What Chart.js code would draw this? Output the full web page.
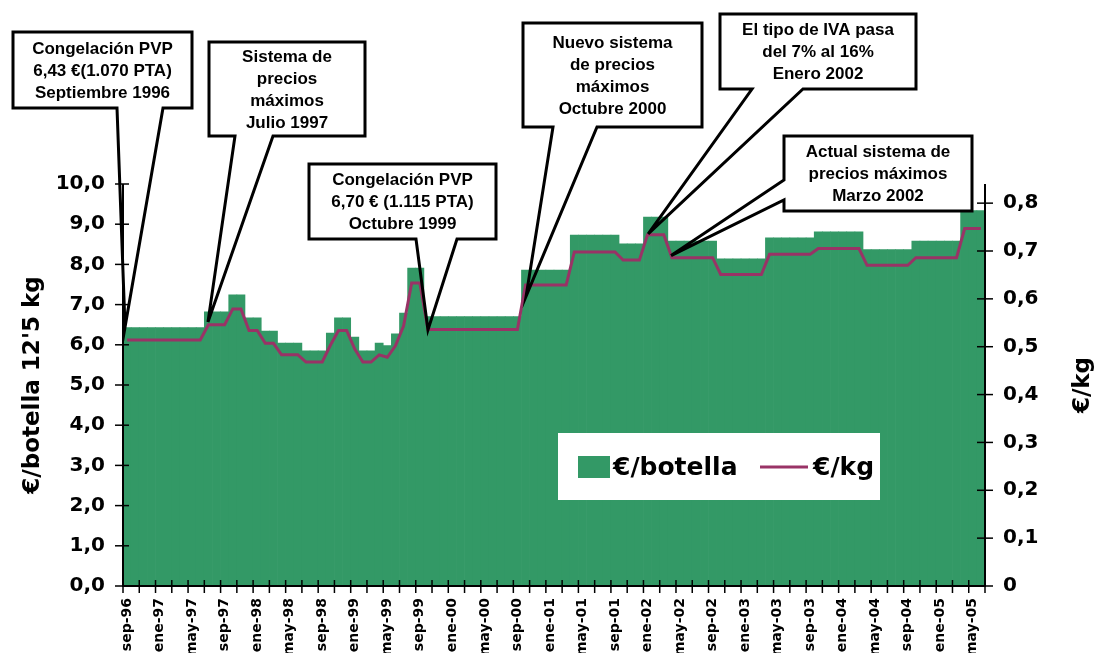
<!DOCTYPE html>
<html>
<head>
<meta charset="utf-8">
<script src="https://cdn.jsdelivr.net/npm/chart.js@4.4.1/dist/chart.umd.min.js"></script>
<style>
  body { margin: 0; background: #fff; }
  canvas { display: block; }
</style>
</head>
<body>
<canvas id="precioChart" width="1099" height="653"></canvas>
<script>
// 1. Data (monthly, sep-96 .. jun-05)
const months = [
    'sep-96', 'oct-96', 'nov-96', 'dic-96',
    'ene-97', 'feb-97', 'mar-97', 'abr-97', 'may-97', 'jun-97', 'jul-97', 'ago-97', 'sep-97', 'oct-97', 'nov-97', 'dic-97',
    'ene-98', 'feb-98', 'mar-98', 'abr-98', 'may-98', 'jun-98', 'jul-98', 'ago-98', 'sep-98', 'oct-98', 'nov-98', 'dic-98',
    'ene-99', 'feb-99', 'mar-99', 'abr-99', 'may-99', 'jun-99', 'jul-99', 'ago-99', 'sep-99', 'oct-99', 'nov-99', 'dic-99',
    'ene-00', 'feb-00', 'mar-00', 'abr-00', 'may-00', 'jun-00', 'jul-00', 'ago-00', 'sep-00', 'oct-00', 'nov-00', 'dic-00',
    'ene-01', 'feb-01', 'mar-01', 'abr-01', 'may-01', 'jun-01', 'jul-01', 'ago-01', 'sep-01', 'oct-01', 'nov-01', 'dic-01',
    'ene-02', 'feb-02', 'mar-02', 'abr-02', 'may-02', 'jun-02', 'jul-02', 'ago-02', 'sep-02', 'oct-02', 'nov-02', 'dic-02',
    'ene-03', 'feb-03', 'mar-03', 'abr-03', 'may-03', 'jun-03', 'jul-03', 'ago-03', 'sep-03', 'oct-03', 'nov-03', 'dic-03',
    'ene-04', 'feb-04', 'mar-04', 'abr-04', 'may-04', 'jun-04', 'jul-04', 'ago-04', 'sep-04', 'oct-04', 'nov-04', 'dic-04',
    'ene-05', 'feb-05', 'mar-05', 'abr-05', 'may-05', 'jun-05'
];

// €/botella (12,5 kg)
const euroBotella = [
    6.43, 6.43, 6.43, 6.43,
    6.43, 6.43, 6.43, 6.43, 6.43, 6.43, 6.82, 6.82, 6.82, 7.24, 7.24, 6.67,
    6.67, 6.34, 6.34, 6.04, 6.04, 6.04, 5.85, 5.85, 5.85, 6.29, 6.67, 6.67,
    6.19, 5.85, 5.85, 6.04, 5.98, 6.27, 6.79, 7.91, 7.91, 6.70, 6.70, 6.70,
    6.70, 6.70, 6.70, 6.70, 6.70, 6.70, 6.70, 6.70, 6.70, 7.86, 7.86, 7.86,
    7.86, 7.86, 7.86, 8.73, 8.73, 8.73, 8.73, 8.73, 8.73, 8.51, 8.51, 8.51,
    9.18, 9.18, 9.18, 8.58, 8.58, 8.58, 8.58, 8.58, 8.58, 8.14, 8.14, 8.14,
    8.14, 8.14, 8.14, 8.66, 8.66, 8.66, 8.66, 8.66, 8.66, 8.81, 8.81, 8.81,
    8.81, 8.81, 8.81, 8.37, 8.37, 8.37, 8.37, 8.37, 8.37, 8.58, 8.58, 8.58,
    8.58, 8.58, 8.58, 9.34, 9.34, 9.34
];

// €/kg
const euroKg = [
    0.514, 0.514, 0.514, 0.514,
    0.514, 0.514, 0.514, 0.514, 0.514, 0.514, 0.546, 0.546, 0.546, 0.579, 0.579, 0.534,
    0.534, 0.507, 0.507, 0.483, 0.483, 0.483, 0.468, 0.468, 0.468, 0.503, 0.534, 0.534,
    0.495, 0.468, 0.468, 0.483, 0.478, 0.502, 0.543, 0.633, 0.633, 0.536, 0.536, 0.536,
    0.536, 0.536, 0.536, 0.536, 0.536, 0.536, 0.536, 0.536, 0.536, 0.629, 0.629, 0.629,
    0.629, 0.629, 0.629, 0.698, 0.698, 0.698, 0.698, 0.698, 0.698, 0.681, 0.681, 0.681,
    0.734, 0.734, 0.734, 0.686, 0.686, 0.686, 0.686, 0.686, 0.686, 0.651, 0.651, 0.651,
    0.651, 0.651, 0.651, 0.693, 0.693, 0.693, 0.693, 0.693, 0.693, 0.705, 0.705, 0.705,
    0.705, 0.705, 0.705, 0.670, 0.670, 0.670, 0.670, 0.670, 0.670, 0.686, 0.686, 0.686,
    0.686, 0.686, 0.686, 0.747, 0.747, 0.747
];

// Callout texts and where they point (category position, €/botella value)
const calloutTexts = [
    ['Congelación PVP', '6,43 €(1.070 PTA)', 'Septiembre 1996'],
    ['Sistema de', 'precios', 'máximos', 'Julio 1997'],
    ['Congelación PVP', '6,70 € (1.115 PTA)', 'Octubre 1999'],
    ['Nuevo sistema', 'de precios', 'máximos', 'Octubre 2000'],
    ['El tipo de IVA pasa', 'del 7% al 16%', 'Enero 2002'],
    ['Actual sistema de', 'precios máximos', 'Marzo 2002']
];
const calloutAt = [-0.25, 9.95, 37.0, 49.07, 64.08, 66.9];
const calloutValue = [6.44, 6.57, 6.37, 7.21, 8.76, 8.22];

// 2. Layout of the callout boxes (pixels)
const calloutBoxes = [
    { rect: [13, 32, 192, 108], side: 'bottom', base: [117, 163] },
    { rect: [209, 42, 365, 136], side: 'bottom', base: [235, 273] },
    { rect: [309, 164, 496, 239], side: 'bottom', base: [416, 457] },
    { rect: [523, 23, 702, 127], side: 'bottom', base: [553, 597] },
    { rect: [720, 14, 916, 89], side: 'bottom', base: [752, 803] },
    { rect: [784, 136, 972, 211], side: 'left', base: [180, 200] }
];

const BAR_COLOR = '#339966';
const LINE_COLOR = '#993366';
const AXIS_FONT = '"DejaVu Sans", "Noto Sans", sans-serif';
const BOX_FONT = '"Liberation Sans", Arial, sans-serif';

function segment(ctx, x1, y1, x2, y2) {
    ctx.beginPath();
    ctx.moveTo(x1, y1);
    ctx.lineTo(x2, y2);
    ctx.stroke();
}

// Axis lines and crossing tick marks, right title, legend and callouts
const decorations = {
    id: 'decorations',
    afterDatasetsDraw(chart) {
        const { ctx, chartArea: a, scales: { x, y, y1 } } = chart;
        ctx.save();
        ctx.strokeStyle = '#000';
        ctx.lineWidth = 2;
        ctx.beginPath();
        ctx.moveTo(a.left, a.top);
        ctx.lineTo(a.left, a.bottom);
        ctx.lineTo(a.right, a.bottom);
        ctx.lineTo(a.right, a.top);
        ctx.stroke();

        ctx.lineWidth = 1.5;
        y.ticks.forEach(t => {
            const py = y.getPixelForValue(t.value);
            segment(ctx, a.left - 8, py, a.left + 6, py);
        });
        y1.ticks.forEach(t => {
            const py = y1.getPixelForValue(t.value);
            segment(ctx, a.right - 8, py, a.right + 8, py);
        });
        const step = x.getPixelForValue(1) - x.getPixelForValue(0);
        const start = x.getPixelForValue(0) - step / 2;
        for (let i = 0; i <= months.length; i += 2) {
            const px = start + i * step;
            segment(ctx, px, a.bottom - 6, px, a.bottom + 7);
        }

        // right axis title, read bottom to top like the left one
        ctx.translate(1083, (a.top + a.bottom) / 2);
        ctx.rotate(-Math.PI / 2);
        ctx.fillStyle = '#000';
        ctx.font = 'bold 23px ' + AXIS_FONT;
        ctx.textAlign = 'center';
        ctx.textBaseline = 'middle';
        ctx.fillText('€/kg', 0, 0);
        ctx.restore();
    },
    afterDraw(chart) {
        const { ctx, scales: { x, y } } = chart;
        const line = chart.data.datasets[0];
        const bars = chart.data.datasets[1];
        ctx.save();

        // legend
        ctx.fillStyle = '#fff';
        ctx.fillRect(558, 433, 322, 67);
        ctx.fillStyle = bars.backgroundColor;
        ctx.fillRect(578, 456, 32, 22);
        ctx.strokeStyle = line.borderColor;
        ctx.lineWidth = 3;
        segment(ctx, 760, 467, 808, 467);
        ctx.fillStyle = '#000';
        ctx.font = 'bold 25px ' + AXIS_FONT;
        ctx.textAlign = 'left';
        ctx.textBaseline = 'middle';
        ctx.fillText(bars.label, 613, 468);
        ctx.fillText(line.label, 813, 468);

        // callouts
        const step = x.getPixelForValue(1) - x.getPixelForValue(0);
        calloutBoxes.forEach((box, i) => {
            const tipX = x.getPixelForValue(0) + calloutAt[i] * step;
            const tipY = y.getPixelForValue(calloutValue[i]);
            const [x0, y0, x1, y1] = box.rect;
            ctx.fillStyle = '#fff';
            ctx.fillRect(x0, y0, x1 - x0, y1 - y0);
            ctx.strokeStyle = '#000';
            ctx.lineWidth = 3;
            ctx.lineJoin = 'miter';
            ctx.beginPath();
            if (box.side === 'bottom') {
                const [bl, br] = box.base;
                ctx.moveTo(bl, y1);
                ctx.lineTo(x0, y1);
                ctx.lineTo(x0, y0);
                ctx.lineTo(x1, y0);
                ctx.lineTo(x1, y1);
                ctx.lineTo(br, y1);
                ctx.lineTo(tipX, tipY);
            } else {
                const [bt, bb] = box.base;
                ctx.moveTo(x0, bt);
                ctx.lineTo(x0, y0);
                ctx.lineTo(x1, y0);
                ctx.lineTo(x1, y1);
                ctx.lineTo(x0, y1);
                ctx.lineTo(x0, bb);
                ctx.lineTo(tipX, tipY);
            }
            ctx.closePath();
            ctx.stroke();

            const lines = calloutTexts[i];
            ctx.fillStyle = '#000';
            ctx.font = 'bold 17px ' + BOX_FONT;
            ctx.textAlign = 'center';
            ctx.textBaseline = 'middle';
            const cx = (x0 + x1) / 2;
            const cy = (y0 + y1) / 2 + 1;
            lines.forEach((t, k) => {
                ctx.fillText(t, cx, cy + (k - (lines.length - 1) / 2) * 22);
            });
        });
        ctx.restore();
    }
};

const comma = (v, d) => v.toFixed(d).replace('.', ',');

// 3. Chart
new Chart(document.getElementById('precioChart'), {
    type: 'bar',
    data: {
        labels: months,
        datasets: [{
            type: 'line',
            label: '€/kg',
            data: euroKg,
            yAxisID: 'y1',
            borderColor: LINE_COLOR,
            borderWidth: 3,
            pointRadius: 0,
            tension: 0,
            order: 0
        }, {
            label: '€/botella',
            data: euroBotella,
            yAxisID: 'y',
            backgroundColor: BAR_COLOR,
            borderWidth: 0,
            barPercentage: 1,
            categoryPercentage: 1,
            order: 1
        }]
    },
    options: {
        responsive: false,
        animation: false,
        devicePixelRatio: 1,
        events: [],
        layout: { padding: { top: 184, left: 0, right: 0, bottom: 0 } },
        plugins: {
            legend: { display: false },
            tooltip: { enabled: false }
        },
        scales: {
            x: {
                offset: true,
                grid: { display: false, drawTicks: false },
                border: { display: false },
                ticks: {
                    autoSkip: false,
                    minRotation: 90,
                    maxRotation: 90,
                    padding: 12,
                    color: '#000',
                    font: { family: AXIS_FONT, size: 14, weight: 'bold' },
                    callback: (v, i) => (i % 4 === 0 ? months[i] : null)
                },
                afterFit: s => { s.height = 67; }
            },
            y: {
                position: 'left',
                min: 0,
                max: 10,
                grid: { display: false, drawTicks: false },
                border: { display: false },
                ticks: {
                    stepSize: 1,
                    padding: 18,
                    color: '#000',
                    font: { family: AXIS_FONT, size: 20, weight: 'bold' },
                    callback: v => comma(v, 1)
                },
                title: {
                    display: true,
                    text: "€/botella 12'5 kg",
                    color: '#000',
                    padding: { top: 19, bottom: 0 },
                    font: { family: AXIS_FONT, size: 23, weight: 'bold' }
                },
                afterFit: s => { s.width = 123; }
            },
            y1: {
                position: 'right',
                min: 0,
                max: 0.84,
                grid: { display: false, drawTicks: false },
                border: { display: false },
                ticks: {
                    stepSize: 0.1,
                    includeBounds: false,
                    padding: 18,
                    color: '#000',
                    font: { family: AXIS_FONT, size: 20, weight: 'bold' },
                    callback: v => (v === 0 ? '0' : comma(v, 1))
                },
                afterFit: s => { s.width = 114; }
            }
        }
    },
    plugins: [decorations]
});
</script>
</body>
</html>
